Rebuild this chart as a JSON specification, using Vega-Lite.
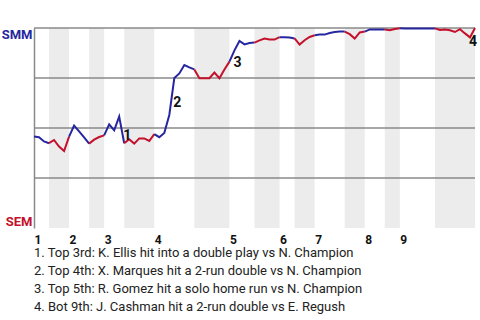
{
  "$schema": "https://vega.github.io/schema/vega-lite/v6.json",
  "width": 441,
  "height": 200,
  "autosize": {"type": "none"},
  "padding": {"left": 34, "top": 28, "right": 5, "bottom": 92},
  "background": "white",
  "config": {"view": {"stroke": null}, "font": "Roboto"},
  "resolve": {"axis": {"x": "independent", "y": "independent"}},
  "title": {
    "text": [
      "1. Top 3rd: K. Ellis hit into a double play vs N. Champion",
      "2. Top 4th: X. Marques hit a 2-run double vs N. Champion",
      "3. Top 5th: R. Gomez hit a solo home run vs N. Champion",
      "4. Bot 9th: J. Cashman hit a 2-run double vs E. Regush"
    ],
    "orient": "bottom",
    "anchor": "start",
    "frame": "group",
    "font": "Roboto",
    "fontSize": 13,
    "fontWeight": "normal",
    "lineHeight": 18,
    "color": "#222222",
    "offset": 2
  },
  "datasets": {
    "bands": [
      {"start": 3, "end": 7}, {"start": 11, "end": 14}, {"start": 18, "end": 24},
      {"start": 32, "end": 39}, {"start": 44, "end": 49}, {"start": 52, "end": 56},
      {"start": 62, "end": 66}, {"start": 70, "end": 73}, {"start": 80, "end": 88}
    ],
    "grid": [{"wp": 0.25}, {"wp": 0.5}, {"wp": 0.75}, {"wp": 1}],
    "notes": [
      {"n": "1", "t": 17.5, "wp": 0.4905},
      {"n": "2", "t": 27.5, "wp": 0.6575},
      {"n": "3", "t": 39.5, "wp": 0.86},
      {"n": "4", "t": 86.5, "wp": 0.963}
    ],
    "wp": [
      {"h": "T1", "s": "SMM", "t": 0, "wp": 0.457}, {"h": "T1", "s": "SMM", "t": 1, "wp": 0.454}, {"h": "T1", "s": "SMM", "t": 2, "wp": 0.433}, {"h": "T1", "s": "SMM", "t": 3, "wp": 0.424},
      {"h": "B1", "s": "SEM", "t": 3, "wp": 0.424}, {"h": "B1", "s": "SEM", "t": 4, "wp": 0.44}, {"h": "B1", "s": "SEM", "t": 5, "wp": 0.407}, {"h": "B1", "s": "SEM", "t": 6, "wp": 0.385}, {"h": "B1", "s": "SEM", "t": 7, "wp": 0.457},
      {"h": "T2", "s": "SMM", "t": 7, "wp": 0.457}, {"h": "T2", "s": "SMM", "t": 8, "wp": 0.512}, {"h": "T2", "s": "SMM", "t": 9, "wp": 0.483}, {"h": "T2", "s": "SMM", "t": 10, "wp": 0.453}, {"h": "T2", "s": "SMM", "t": 11, "wp": 0.422},
      {"h": "B2", "s": "SEM", "t": 11, "wp": 0.422}, {"h": "B2", "s": "SEM", "t": 12, "wp": 0.442}, {"h": "B2", "s": "SEM", "t": 13, "wp": 0.455}, {"h": "B2", "s": "SEM", "t": 14, "wp": 0.463},
      {"h": "T3", "s": "SMM", "t": 14, "wp": 0.463}, {"h": "T3", "s": "SMM", "t": 15, "wp": 0.518}, {"h": "T3", "s": "SMM", "t": 16, "wp": 0.488}, {"h": "T3", "s": "SMM", "t": 17, "wp": 0.557}, {"h": "T3", "s": "SMM", "t": 18, "wp": 0.424},
      {"h": "B3", "s": "SEM", "t": 18, "wp": 0.424}, {"h": "B3", "s": "SEM", "t": 19, "wp": 0.444}, {"h": "B3", "s": "SEM", "t": 20, "wp": 0.422}, {"h": "B3", "s": "SEM", "t": 21, "wp": 0.448}, {"h": "B3", "s": "SEM", "t": 22, "wp": 0.448}, {"h": "B3", "s": "SEM", "t": 23, "wp": 0.435}, {"h": "B3", "s": "SEM", "t": 24, "wp": 0.469},
      {"h": "T4", "s": "SMM", "t": 24, "wp": 0.469}, {"h": "T4", "s": "SMM", "t": 25, "wp": 0.454}, {"h": "T4", "s": "SMM", "t": 26, "wp": 0.475}, {"h": "T4", "s": "SMM", "t": 27, "wp": 0.565}, {"h": "T4", "s": "SMM", "t": 28, "wp": 0.75}, {"h": "T4", "s": "SMM", "t": 29, "wp": 0.773}, {"h": "T4", "s": "SMM", "t": 30, "wp": 0.815}, {"h": "T4", "s": "SMM", "t": 31, "wp": 0.803}, {"h": "T4", "s": "SMM", "t": 32, "wp": 0.793},
      {"h": "B4", "s": "SEM", "t": 32, "wp": 0.793}, {"h": "B4", "s": "SEM", "t": 33, "wp": 0.749}, {"h": "B4", "s": "SEM", "t": 34, "wp": 0.749}, {"h": "B4", "s": "SEM", "t": 35, "wp": 0.749}, {"h": "B4", "s": "SEM", "t": 36, "wp": 0.777}, {"h": "B4", "s": "SEM", "t": 37, "wp": 0.749}, {"h": "B4", "s": "SEM", "t": 38, "wp": 0.793}, {"h": "B4", "s": "SEM", "t": 39, "wp": 0.832},
      {"h": "T5", "s": "SMM", "t": 39, "wp": 0.832}, {"h": "T5", "s": "SMM", "t": 40, "wp": 0.888}, {"h": "T5", "s": "SMM", "t": 41, "wp": 0.935}, {"h": "T5", "s": "SMM", "t": 42, "wp": 0.918}, {"h": "T5", "s": "SMM", "t": 43, "wp": 0.925}, {"h": "T5", "s": "SMM", "t": 44, "wp": 0.927},
      {"h": "B5", "s": "SEM", "t": 44, "wp": 0.927}, {"h": "B5", "s": "SEM", "t": 45, "wp": 0.938}, {"h": "B5", "s": "SEM", "t": 46, "wp": 0.947}, {"h": "B5", "s": "SEM", "t": 47, "wp": 0.942}, {"h": "B5", "s": "SEM", "t": 48, "wp": 0.942}, {"h": "B5", "s": "SEM", "t": 49, "wp": 0.954},
      {"h": "T6", "s": "SMM", "t": 49, "wp": 0.954}, {"h": "T6", "s": "SMM", "t": 50, "wp": 0.954}, {"h": "T6", "s": "SMM", "t": 51, "wp": 0.953}, {"h": "T6", "s": "SMM", "t": 52, "wp": 0.948},
      {"h": "B6", "s": "SEM", "t": 52, "wp": 0.948}, {"h": "B6", "s": "SEM", "t": 53, "wp": 0.917}, {"h": "B6", "s": "SEM", "t": 54, "wp": 0.939}, {"h": "B6", "s": "SEM", "t": 55, "wp": 0.955}, {"h": "B6", "s": "SEM", "t": 56, "wp": 0.964},
      {"h": "T7", "s": "SMM", "t": 56, "wp": 0.964}, {"h": "T7", "s": "SMM", "t": 57, "wp": 0.967}, {"h": "T7", "s": "SMM", "t": 58, "wp": 0.967}, {"h": "T7", "s": "SMM", "t": 59, "wp": 0.975}, {"h": "T7", "s": "SMM", "t": 60, "wp": 0.98}, {"h": "T7", "s": "SMM", "t": 61, "wp": 0.982}, {"h": "T7", "s": "SMM", "t": 62, "wp": 0.982},
      {"h": "B7", "s": "SEM", "t": 62, "wp": 0.982}, {"h": "B7", "s": "SEM", "t": 63, "wp": 0.969}, {"h": "B7", "s": "SEM", "t": 64, "wp": 0.947}, {"h": "B7", "s": "SEM", "t": 65, "wp": 0.978}, {"h": "B7", "s": "SEM", "t": 66, "wp": 0.982},
      {"h": "T8", "s": "SMM", "t": 66, "wp": 0.982}, {"h": "T8", "s": "SMM", "t": 67, "wp": 0.993}, {"h": "T8", "s": "SMM", "t": 68, "wp": 0.993}, {"h": "T8", "s": "SMM", "t": 69, "wp": 0.993}, {"h": "T8", "s": "SMM", "t": 70, "wp": 0.993},
      {"h": "B8", "s": "SEM", "t": 70, "wp": 0.993}, {"h": "B8", "s": "SEM", "t": 71, "wp": 0.989}, {"h": "B8", "s": "SEM", "t": 72, "wp": 0.995}, {"h": "B8", "s": "SEM", "t": 73, "wp": 0.999},
      {"h": "T9", "s": "SMM", "t": 73, "wp": 0.999}, {"h": "T9", "s": "SMM", "t": 74, "wp": 0.998}, {"h": "T9", "s": "SMM", "t": 75, "wp": 0.998}, {"h": "T9", "s": "SMM", "t": 76, "wp": 0.998}, {"h": "T9", "s": "SMM", "t": 77, "wp": 0.998}, {"h": "T9", "s": "SMM", "t": 78, "wp": 0.998}, {"h": "T9", "s": "SMM", "t": 79, "wp": 0.998}, {"h": "T9", "s": "SMM", "t": 80, "wp": 0.998},
      {"h": "B9", "s": "SEM", "t": 80, "wp": 0.998}, {"h": "B9", "s": "SEM", "t": 81, "wp": 0.99}, {"h": "B9", "s": "SEM", "t": 82, "wp": 0.993}, {"h": "B9", "s": "SEM", "t": 83, "wp": 0.989}, {"h": "B9", "s": "SEM", "t": 84, "wp": 0.98}, {"h": "B9", "s": "SEM", "t": 85, "wp": 0.994}, {"h": "B9", "s": "SEM", "t": 86, "wp": 0.973}, {"h": "B9", "s": "SEM", "t": 87, "wp": 0.953}, {"h": "B9", "s": "SEM", "t": 88, "wp": 1.0}
    ]
  },
  "layer": [
    {
      "data": {"name": "bands"},
      "mark": {"type": "rect", "color": "#ececec"},
      "encoding": {
        "x": {"field": "start", "type": "quantitative", "scale": {"domain": [0, 88], "nice": false, "zero": false}, "axis": null},
        "x2": {"field": "end"}
      }
    },
    {
      "data": {"name": "grid"},
      "mark": {"type": "rule", "color": "#8a8a8a", "strokeWidth": 1.5},
      "encoding": {
        "y": {
          "field": "wp", "type": "quantitative",
          "scale": {"domain": [0, 1], "nice": false},
          "axis": {
            "values": [0, 1],
            "title": null,
            "grid": false,
            "ticks": false,
            "domain": true,
            "domainColor": "#8a8a8a",
            "domainWidth": 1.5,
            "labelExpr": "datum.value == 1 ? 'SMM' : 'SEM'",
            "labelFont": "Roboto",
            "labelFontSize": 13,
            "labelFontWeight": "bold",
            "labelPadding": 2,
            "labelColor": {"condition": {"test": "datum.value == 1", "value": "#2626a0"}, "value": "#c3112b"},
            "labelBaseline": {"condition": {"test": "datum.value == 1", "value": "top"}, "value": "bottom"}
          }
        }
      }
    },
    {
      "data": {"name": "wp"},
      "mark": {"type": "line", "strokeWidth": 2, "interpolate": "linear"},
      "encoding": {
        "x": {
          "field": "t", "type": "quantitative",
          "axis": {
            "values": [0, 7, 14, 24, 39, 49, 56, 66, 73],
            "labelExpr": "indexof([0, 7, 14, 24, 39, 49, 56, 66, 73], datum.value) + 1",
            "title": null,
            "grid": false,
            "ticks": false,
            "domain": false,
            "labelFont": "Roboto",
            "labelFontSize": 12,
            "labelFontWeight": "bold",
            "labelColor": "#111111",
            "labelAlign": "left",
            "labelFlush": false,
            "labelOverlap": false,
            "labelPadding": 6
          }
        },
        "y": {"field": "wp", "type": "quantitative", "axis": null},
        "detail": {"field": "h"},
        "color": {"field": "s", "type": "nominal", "scale": {"domain": ["SMM", "SEM"], "range": ["#2626a0", "#c3112b"]}, "legend": null}
      }
    },
    {
      "data": {"name": "notes"},
      "mark": {"type": "text", "font": "Roboto", "fontSize": 14, "fontWeight": "bold", "color": "#111111", "align": "center", "baseline": "middle", "dx": 5.5, "dy": 6.5},
      "encoding": {
        "x": {"field": "t", "type": "quantitative", "axis": null},
        "y": {"field": "wp", "type": "quantitative", "axis": null},
        "text": {"field": "n"}
      }
    }
  ]
}
